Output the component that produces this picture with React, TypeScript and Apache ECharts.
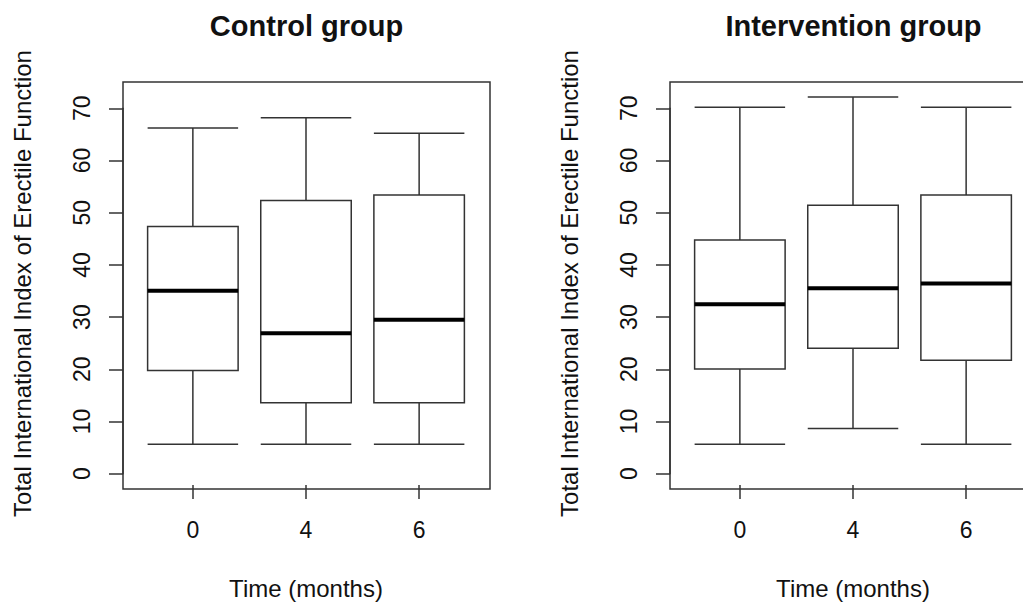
import React, { useEffect, useRef } from "react";
import * as echarts from "echarts";

const categories = ["0", "4", "6"];
// [min, Q1, median, Q3, max]
const controlBox = [
  [5, 19.2, 34.6, 47, 66],
  [5, 13, 26.4, 52, 68],
  [5, 13, 29, 53.1, 65],
];
const interventionBox = [
  [5, 19.5, 32, 44.4, 70],
  [8, 23.5, 35.1, 51.1, 72],
  [5, 21.2, 36, 53.1, 70],
];
const panelTitles = ["Control group", "Intervention group"];
const xAxisTitle = "Time (months)";
const yAxisTitle = "Total International Index of Erectile Function";
const yTickMin = 0;
const yTickMax = 70;
const yTickStep = 10;
const yRangeMin = -2.88;
const yRangeMax = 74.88;

const FONT = "'Liberation Sans', Arial, Helvetica, sans-serif";
const LINE = "#333";
const TEXT = "#111";

export default function App() {
  const ref = useRef<HTMLDivElement>(null);
  useEffect(() => {
    if (!ref.current) return;
    const chart = echarts.init(ref.current, null, { renderer: "svg" });

    const frameLeft = 123;
    const frameTop = 82;
    const frameW = 367;
    const frameH = 407;
    const panelDx = 547;
    const innerLeft = 136.3;
    const innerW = 339.4;
    const tickTop = 108.3;
    const tickH = 365.4;

    const grids: any[] = [];
    const xAxes: any[] = [];
    const yAxes: any[] = [];
    const series: any[] = [];
    const graphics: any[] = [];

    [controlBox, interventionBox].forEach((box, p) => {
      const dx = p * panelDx;
      const gBox = grids.length;
      grids.push({ left: innerLeft + dx, top: frameTop, width: innerW, height: frameH });
      const gTick = grids.length;
      grids.push({ left: frameLeft + dx, top: tickTop, width: 10, height: tickH });

      xAxes.push({
        gridIndex: gBox,
        type: "category",
        position: "bottom",
        data: categories,
        axisLine: { show: false, onZero: false },
        axisTick: { show: true, alignWithLabel: true, length: 14, lineStyle: { color: LINE, width: 1.5 } },
        axisLabel: { fontSize: 23, color: TEXT, fontFamily: FONT, margin: 33 },
        name: xAxisTitle,
        nameLocation: "middle",
        nameGap: 91,
        nameTextStyle: { fontSize: 24, color: TEXT, fontFamily: FONT },
        splitLine: { show: false },
      });
      xAxes.push({ gridIndex: gTick, type: "value", show: false });

      yAxes.push({
        gridIndex: gBox,
        type: "value",
        min: yRangeMin,
        max: yRangeMax,
        axisLine: { show: false, onZero: false },
        axisTick: { show: false },
        axisLabel: { show: false },
        splitLine: { show: false },
        name: yAxisTitle,
        nameLocation: "middle",
        nameGap: 102,
        nameTextStyle: { fontSize: 24, color: TEXT, fontFamily: FONT },
      });
      yAxes.push({
        gridIndex: gTick,
        type: "value",
        min: yTickMin,
        max: yTickMax,
        interval: yTickStep,
        axisLine: { show: true, onZero: false, lineStyle: { color: LINE, width: 1.5 } },
        axisTick: { show: true, length: 14, lineStyle: { color: LINE, width: 1.5 } },
        axisLabel: { rotate: 90, fontSize: 23, color: TEXT, fontFamily: FONT, margin: 30 },
        splitLine: { show: false },
      });

      const xi = p * 2;
      const yi = p * 2;
      series.push({
        type: "boxplot",
        xAxisIndex: xi,
        yAxisIndex: yi,
        data: box,
        boxWidth: ["80%", "80%"],
        itemStyle: { color: "#fff", borderColor: LINE, borderWidth: 1.5 },
        emphasis: { disabled: true },
        silent: true,
      });
      series.push({
        type: "custom",
        xAxisIndex: xi,
        yAxisIndex: yi,
        data: box.map((b, i) => [i, b[2]]),
        encode: { x: 0, y: 1 },
        silent: true,
        z: 5,
        renderItem: (params: any, api: any) => {
          const c = api.coord([api.value(0), api.value(1)]);
          const w = api.size([1, 0])[0] * 0.8;
          return {
            type: "line",
            shape: { x1: c[0] - w / 2, y1: c[1], x2: c[0] + w / 2, y2: c[1] },
            style: { stroke: "#000", lineWidth: 4 },
          };
        },
      });

      graphics.push({
        type: "rect",
        shape: { x: frameLeft + dx, y: frameTop, width: frameW, height: frameH },
        style: { fill: "none", stroke: LINE, lineWidth: 1.5 },
        z: 10,
        silent: true,
      });
      graphics.push({
        type: "text",
        x: frameLeft + dx + frameW / 2,
        y: 11,
        style: {
          text: panelTitles[p],
          font: `bold 29px ${FONT}`,
          fill: TEXT,
          textAlign: "center",
          textVerticalAlign: "top",
        },
        silent: true,
      });
    });

    chart.setOption({
      animation: false,
      backgroundColor: "#fff",
      grid: grids,
      xAxis: xAxes,
      yAxis: yAxes,
      series,
      graphic: graphics,
    });
    return () => chart.dispose();
  }, []);
  return (
    <div
      ref={ref}
      style={{ position: "fixed", left: 0, top: 0, width: 1023, height: 605 }}
    />
  );
}
